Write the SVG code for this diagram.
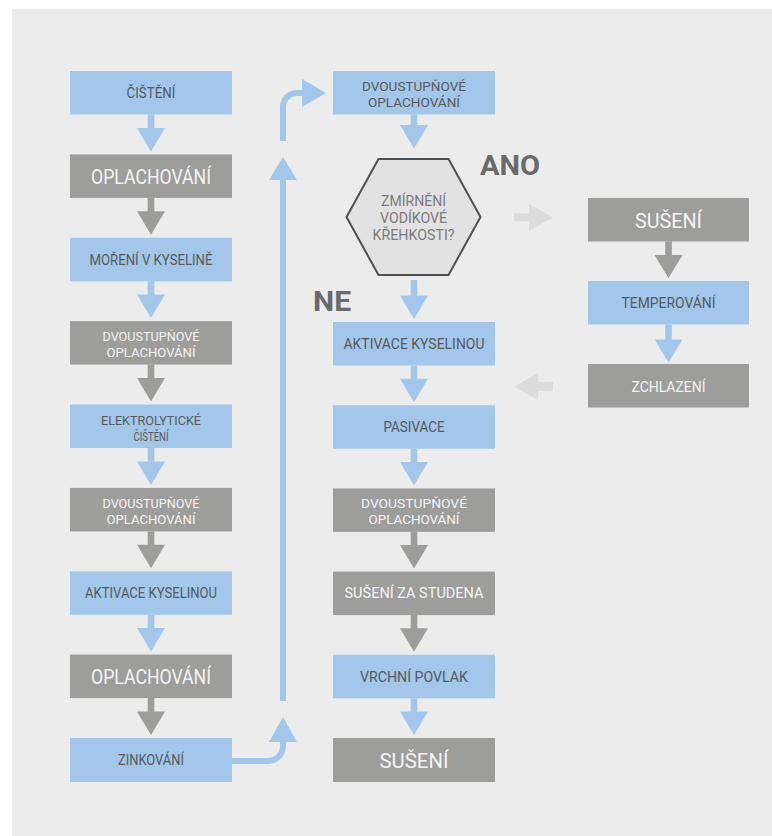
<svg xmlns="http://www.w3.org/2000/svg" width="772" height="836" viewBox="0 0 772 836">
<style>
.bg{fill:#ececec}
.b{fill:#a2c7eb}
.g{fill:#9d9d9c}
.ab{fill:#a2c7eb}
.ag{fill:#9d9d9c}
.al{fill:#dcdcdc}
.loop{fill:none;stroke:#a2c7eb;stroke-width:6}
text{font-family:Roboto,"Liberation Sans",sans-serif;text-anchor:middle}
.tb{fill:#58595b;font-size:14px}
.tw{fill:#f4f4f4;font-size:14px}
.tb2{fill:#58595b;font-size:12.5px}
.tw2{fill:#f4f4f4;font-size:12.5px}
.big{fill:#f4f4f4;font-size:20px}
.hx{fill:#7b7b7b;font-size:14px}
.lab{fill:#6a6a6a;font-size:28px;font-weight:bold}
</style>
<rect class="bg" x="12" y="9" width="760" height="827"/>

<g id="connectors">
  <!-- left column -->
  <path class="ab" d="M147.7,114.5V127.9H137L151,151.4L165,127.9H154.3V114.5Z"/>
  <path class="ag" d="M147.7,197.9V211.3H137L151,234.8L165,211.3H154.3V197.9Z"/>
  <path class="ab" d="M147.7,281.3V294.6H137L151,318.1L165,294.6H154.3V281.3Z"/>
  <path class="ag" d="M147.7,364.6V378H137L151,401.5L165,378H154.3V364.6Z"/>
  <path class="ab" d="M147.7,448V461.4H137L151,484.9L165,461.4H154.3V448Z"/>
  <path class="ag" d="M147.7,531.4V544.8H137L151,568.3L165,544.8H154.3V531.4Z"/>
  <path class="ab" d="M147.7,614.8V628.1H137L151,651.6L165,628.1H154.3V614.8Z"/>
  <path class="ag" d="M147.7,698.1V711.5H137L151,735L165,711.5H154.3V698.1Z"/>
  <!-- loop -->
  <path class="loop" d="M232,761H268A15,15 0 0 0 283,746V741"/>
  <polygon class="ab" points="269,742 297,742 283,717"/>
  <line class="loop" x1="283" y1="701" x2="283" y2="178"/>
  <polygon class="ab" points="269,180 297,180 283,157"/>
  <path class="loop" d="M283,141V107A14,14 0 0 1 297,93H303"/>
  <polygon class="ab" points="302,79 302,107 326,93"/>
  <!-- middle column -->
  <path class="ab" d="M410.7,114.5V125H400L414,148.5L428,125H417.3V114.5Z"/>
  <path class="ab" d="M410.7,280V295.5H400L414,319L428,295.5H417.3V280Z"/>
  <path class="ab" d="M410.7,365.5V378.7H400L414,402.2L428,378.7H417.3V365.5Z"/>
  <path class="ab" d="M410.7,448.7V461.9H400L414,485.4L428,461.9H417.3V448.7Z"/>
  <path class="ag" d="M410.7,531.9V545.1H400L414,568.6L428,545.1H417.3V531.9Z"/>
  <path class="ag" d="M410.7,615.1V628.3H400L414,651.8L428,628.3H417.3V615.1Z"/>
  <path class="ab" d="M410.7,698.3V711.5H400L414,735L428,711.5H417.3V698.3Z"/>
  <!-- right column -->
  <path class="ag" d="M665.2,241.5V255H654.5L668.5,278L682.5,255H671.8V241.5Z"/>
  <path class="ab" d="M665.2,324.5V339.5H654.5L668.5,362.5L682.5,339.5H671.8V324.5Z"/>
  <!-- light arrows -->
  <path class="al" d="M514,213.5H529V204L553,217.5L529,231V221.5H514Z"/>
  <path class="al" d="M553,382H538V373L514,386.5L538,400V391H553Z"/>
</g>

<g id="n-cisteni"><rect class="b" x="70" y="71" width="162" height="43.5"/><text class="tb" x="151" y="98" textLength="49" lengthAdjust="spacingAndGlyphs">ČIŠTĚNÍ</text></g>
<g id="n-oplachovani1"><rect class="g" x="70" y="154.4" width="162" height="43.5"/><text class="big" x="151" y="184" textLength="120" lengthAdjust="spacingAndGlyphs">OPLACHOVÁNÍ</text></g>
<g id="n-moreni"><rect class="b" x="70" y="237.8" width="162" height="43.5"/><text class="tb" x="151" y="264.5" textLength="123" lengthAdjust="spacingAndGlyphs">MOŘENÍ V KYSELINĚ</text></g>
<g id="n-dvou1"><rect class="g" x="70" y="321.1" width="162" height="43.5"/><text class="tw2" x="151" y="341.3" textLength="97" lengthAdjust="spacingAndGlyphs">DVOUSTUPŇOVÉ</text><text class="tw2" x="151" y="357.3" textLength="89" lengthAdjust="spacingAndGlyphs">OPLACHOVÁNÍ</text></g>
<g id="n-elektro"><rect class="b" x="70" y="404.5" width="162" height="43.5"/><text class="tb2" x="151" y="424.7" textLength="100" lengthAdjust="spacingAndGlyphs">ELEKTROLYTICKÉ</text><text class="tb2" x="151" y="440.7" textLength="35" lengthAdjust="spacingAndGlyphs">ČIŠTĚNÍ</text></g>
<g id="n-dvou2"><rect class="g" x="70" y="487.9" width="162" height="43.5"/><text class="tw2" x="151" y="508.1" textLength="97" lengthAdjust="spacingAndGlyphs">DVOUSTUPŇOVÉ</text><text class="tw2" x="151" y="524.1" textLength="89" lengthAdjust="spacingAndGlyphs">OPLACHOVÁNÍ</text></g>
<g id="n-aktivace1"><rect class="b" x="70" y="571.3" width="162" height="43.5"/><text class="tb" x="151" y="598" textLength="132" lengthAdjust="spacingAndGlyphs">AKTIVACE KYSELINOU</text></g>
<g id="n-oplachovani2"><rect class="g" x="70" y="654.6" width="162" height="43.5"/><text class="big" x="151" y="684.2" textLength="120" lengthAdjust="spacingAndGlyphs">OPLACHOVÁNÍ</text></g>
<g id="n-zinkovani"><rect class="b" x="70" y="738" width="162" height="44"/><text class="tb" x="151" y="765" textLength="66" lengthAdjust="spacingAndGlyphs">ZINKOVÁNÍ</text></g>

<g id="n-dvou3"><rect class="b" x="333" y="71" width="162" height="43.5"/><text class="tb2" x="414" y="91" textLength="104" lengthAdjust="spacingAndGlyphs">DVOUSTUPŇOVÉ</text><text class="tb2" x="414" y="107.2" textLength="92" lengthAdjust="spacingAndGlyphs">OPLACHOVÁNÍ</text></g>
<g id="n-hex"><polygon points="346.5,217 378.5,159 448.5,159 480.5,217 448.5,275 378.5,275" fill="#e2e2e2" stroke="#505050" stroke-width="2"/><text class="hx" x="413.5" y="206" textLength="65" lengthAdjust="spacingAndGlyphs">ZMÍRNĚNÍ</text><text class="hx" x="413.5" y="223" textLength="67" lengthAdjust="spacingAndGlyphs">VODÍKOVÉ</text><text class="hx" x="413.5" y="240" textLength="82" lengthAdjust="spacingAndGlyphs">KŘEHKOSTI?</text></g>
<g id="l-ano"><text class="lab" x="510" y="175" textLength="60" lengthAdjust="spacingAndGlyphs">ANO</text></g>
<g id="l-ne"><text class="lab" x="332" y="311" textLength="38" lengthAdjust="spacingAndGlyphs">NE</text></g>
<g id="n-aktivace2"><rect class="b" x="333" y="322" width="162" height="43.5"/><text class="tb" x="414" y="348.5" textLength="141" lengthAdjust="spacingAndGlyphs">AKTIVACE KYSELINOU</text></g>
<g id="n-pasivace"><rect class="b" x="333" y="405.2" width="162" height="43.5"/><text class="tb" x="414" y="431.5" textLength="61" lengthAdjust="spacingAndGlyphs">PASIVACE</text></g>
<g id="n-dvou4"><rect class="g" x="333" y="488.4" width="162" height="43.5"/><text class="tw2" x="414" y="508.3" textLength="106" lengthAdjust="spacingAndGlyphs">DVOUSTUPŇOVÉ</text><text class="tw2" x="414" y="524" textLength="91" lengthAdjust="spacingAndGlyphs">OPLACHOVÁNÍ</text></g>
<g id="n-suseni-studena"><rect class="g" x="333" y="571.6" width="162" height="43.5"/><text class="tw" x="414" y="598.3" textLength="139" lengthAdjust="spacingAndGlyphs">SUŠENÍ ZA STUDENA</text></g>
<g id="n-vrchni"><rect class="b" x="333" y="654.8" width="162" height="43.5"/><text class="tb" x="414" y="681.5" textLength="108" lengthAdjust="spacingAndGlyphs">VRCHNÍ POVLAK</text></g>
<g id="n-suseni2"><rect class="g" x="333" y="738" width="162" height="44"/><text class="big" x="414" y="768" textLength="69" lengthAdjust="spacingAndGlyphs">SUŠENÍ</text></g>

<g id="n-suseni1"><rect class="g" x="588" y="198" width="161" height="43.5"/><text class="big" x="668.5" y="227.5" textLength="67" lengthAdjust="spacingAndGlyphs">SUŠENÍ</text></g>
<g id="n-temperovani"><rect class="b" x="588" y="281" width="161" height="43.5"/><text class="tb" x="668.5" y="308" textLength="94" lengthAdjust="spacingAndGlyphs">TEMPEROVÁNÍ</text></g>
<g id="n-zchlazeni"><rect class="g" x="588" y="364" width="161" height="43.5"/><text class="tw" x="668.5" y="392" textLength="74" lengthAdjust="spacingAndGlyphs">ZCHLAZENÍ</text></g>
</svg>
